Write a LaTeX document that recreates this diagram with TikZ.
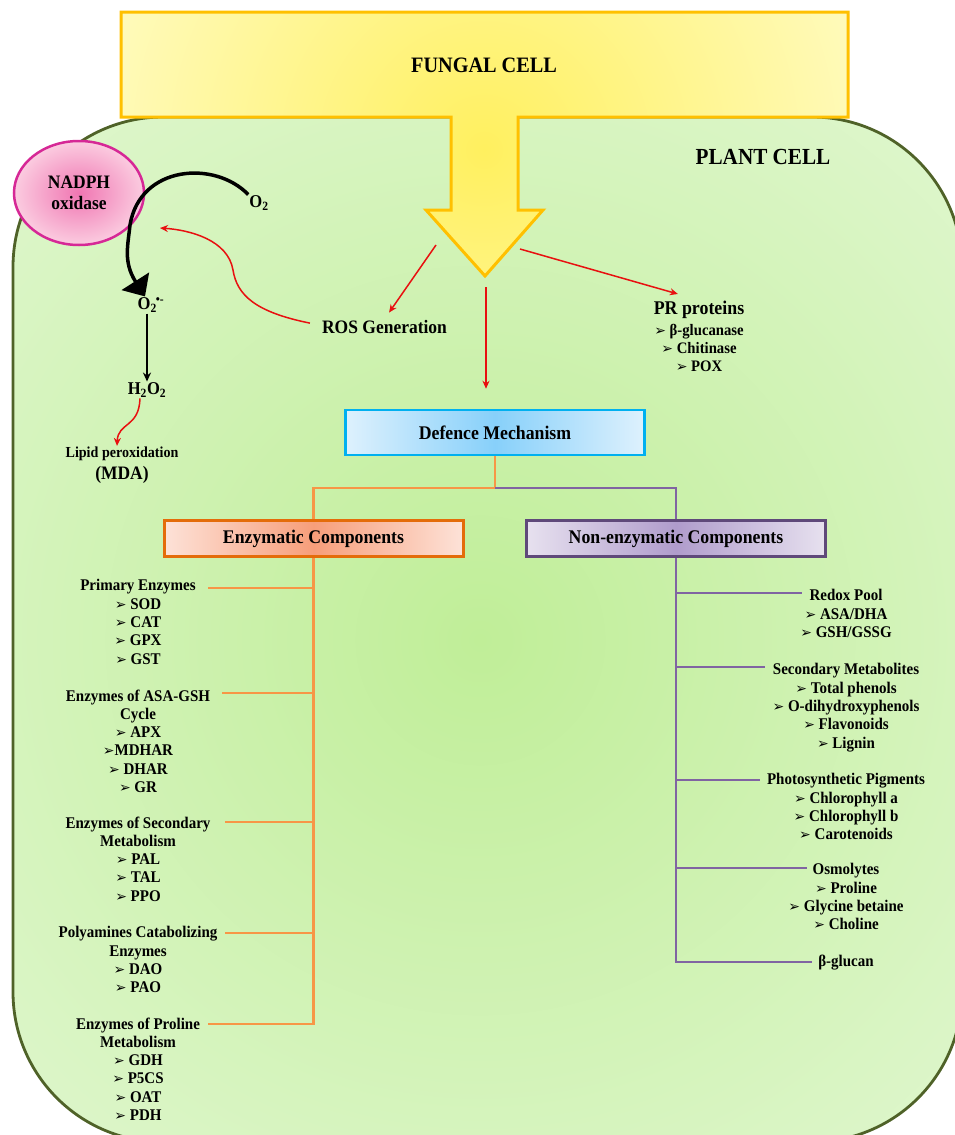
\documentclass[tikz,border=0pt]{standalone}
\usepackage{fontspec}
\setmainfont{Liberation Serif}[FakeStretch=0.92]
\newfontfamily\dingfont{DejaVu Sans}
\usetikzlibrary{shapes.geometric,arrows.meta,positioning}

\definecolor{FungalEdge}{RGB}{255,192,0}
\definecolor{FungalCore}{RGB}{255,240,95}
\definecolor{FungalPale}{RGB}{255,254,218}
\definecolor{PlantWall}{RGB}{79,98,40}
\definecolor{PlantCore}{RGB}{192,238,152}
\definecolor{PlantPale}{RGB}{236,250,228}
\definecolor{NoxEdge}{RGB}{214,40,150}
\definecolor{NoxCore}{RGB}{240,118,178}
\definecolor{NoxPale}{RGB}{251,204,224}
\definecolor{DefEdge}{RGB}{0,176,240}
\definecolor{DefCore}{RGB}{135,208,250}
\definecolor{DefPale}{RGB}{222,241,253}
\definecolor{EnzEdge}{RGB}{228,108,10}
\definecolor{EnzCore}{RGB}{247,158,122}
\definecolor{EnzPale}{RGB}{253,226,216}
\definecolor{NonEdge}{RGB}{95,73,122}
\definecolor{NonCore}{RGB}{176,156,204}
\definecolor{NonPale}{RGB}{231,225,239}
\definecolor{EnzLine}{RGB}{247,150,70}
\definecolor{NonLine}{RGB}{128,100,162}
\definecolor{ArrowRed}{RGB}{232,16,16}

\newcommand{\setfs}[2]{\fontsize{#1}{#2}\selectfont\bfseries}
\newcommand{\arw}{{\dingfont\fontsize{14}{14}\selectfont\char"27A2}}

\begin{document}
\begin{tikzpicture}[x=1pt,y=1pt,yscale=-1,xscale=1,
		enzline/.style={draw=EnzLine, line width=2.5pt},
		nonline/.style={draw=NonLine, line width=2.5pt},
		redarrow/.style={draw=ArrowRed, line width=1.5pt, -{Stealth[length=8pt,width=7pt]}},
		headbox/.style={draw, line width=3pt, minimum width=299pt, inner sep=0pt, font=\setfs{19.3}{22}},
		grouptext/.style={anchor=north, align=center, inner sep=0pt, font=\setfs{16.3}{18.3}},
		lbl/.style={inner sep=1pt, align=center, font=\setfs{19}{21}}]
		\useasboundingbox (0,0) rectangle (954,1135);

		% Plant cell: green shading clipped to the rounded wall
		\begin{scope}
			\clip[rounded corners=150pt] (13,117) rectangle (962,1142);
			\shade[inner color=PlantCore, outer color=PlantPale] (480,640) circle (1000);
		\end{scope}
		\draw[PlantWall, line width=2.8pt, rounded corners=150pt] (13,117) rectangle (962,1142);

		% Fungal cell: box with the arrow pushing into the plant cell
		\begin{scope}
			\clip (121,12) -- (848,12) -- (848,117) -- (518,117) -- (518,210) -- (543,210) -- (485,276) -- (426,210) -- (451,210) -- (451,117) -- (121,117) -- cycle;
			\shade[inner color=FungalCore, outer color=FungalPale] (484,150) circle (520);
		\end{scope}
		\draw[FungalEdge, line width=3pt] (121,12) -- (848,12) -- (848,117) -- (518,117) -- (518,210) -- (543,210) -- (485,276) -- (426,210) -- (451,210) -- (451,117) -- (121,117) -- cycle;

		% The words "FUNGAL CELL, PLANT CELL"
		\node[lbl, font=\setfs{22}{24}] (fungal) at (484,65) {FUNGAL CELL};
		\node[lbl, font=\setfs{23}{25}] (plant) at (763,157) {PLANT CELL};

		% NADPH oxidase and the ROS chain
		\node[ellipse, draw=NoxEdge, line width=2.5pt, inner color=NoxCore, outer color=NoxPale, minimum width=130pt, minimum height=104pt, inner sep=0pt, align=center, font=\setfs{19}{21}] (nox) at (79,193) {NADPH\\oxidase};
		\node[lbl, font=\setfs{18}{20}] (o2) at (259,203) {O\textsubscript{2}};
		\node[lbl, font=\setfs{18}{20}] (sup) at (151,305) {O\textsubscript{2}\kern-1pt\textsuperscript{\textbullet-}};
		\node[lbl, font=\setfs{18}{20}] (hp) at (147,390) {H\textsubscript{2}O\textsubscript{2}};
		\node[lbl, font=\setfs{15.3}{17}] (lipid) at (122,454) {Lipid peroxidation};
		\node[lbl] (mda) at (122,475) {(MDA)};
		\node[lbl] (ros) at (384.5,327) {ROS Generation};

		% PR proteins
		\node[lbl, font=\setfs{19.4}{21}] (pr) at (699,310) {PR proteins};
		\node[grouptext, font=\setfs{16}{18}] (pritems) at (699,324.5) {\arw\ β-glucanase\\\arw\ Chitinase\\\arw\ POX};

		% Boxes of the defence tree
		\node[headbox, draw=DefEdge, line width=2.5pt, left color=DefPale, right color=DefPale, middle color=DefCore, minimum height=45pt] (def) at (495,432.5) {Defence Mechanism};
		\node[headbox, draw=EnzEdge, left color=EnzPale, right color=EnzPale, middle color=EnzCore, minimum height=36pt] (enz) at (313.5,538.5) {Enzymatic Components};
		\node[headbox, draw=NonEdge, left color=NonPale, right color=NonPale, middle color=NonCore, minimum height=36pt] (nenz) at (676,538.5) {Non-enzymatic Components};

		% Points on the arrow head where the red arrows leave
		\coordinate (fa) at (436,245);
		\coordinate (fb) at (486,287);
		\coordinate (fc) at (520,249);
		\coordinate (oxs) at (160,228);

		% Red arrows
		\draw[redarrow, shorten >=8pt] (fa) -- (ros.north);
		\draw[redarrow, shorten >=20pt] (fb) -- (fb |- def.north);
		\draw[redarrow, shorten >=22pt] (fc) -- (pr.north);
		\draw[redarrow] ([xshift=-11pt,yshift=4pt]ros.north west) .. controls (255,312) and (237,295) .. (233,270) .. controls (228,240) and (190,230) .. (oxs);
		\draw[redarrow] ([xshift=-7pt]hp.south) .. controls (139,428) and (118,422) .. ([xshift=-5pt]lipid.north);

		% Black arrows of the superoxide step
		\draw[line width=3.5pt, -{Triangle[length=18pt,width=32pt]}] (o2.north west) .. controls (215,160) and (140,165) .. (130,225) .. controls (128,245) and (123,262) .. ([xshift=-6pt]sup.north);
		\draw[line width=1.6pt, -{Stealth[length=9pt,width=8pt]}] (hp.north |- sup.south) -- (hp.north);

		\coordinate (jn) at (495,488);
		\draw[enzline] (def.south) -- (jn) -| (enz.north);
		\draw[nonline] (jn) -| (nenz.north);

		% Enzymatic groups
		\node[grouptext] (g1) at (138,579.4) {Primary Enzymes\\\arw\ SOD\\\arw\ CAT\\\arw\ GPX\\\arw\ GST};
		\node[grouptext] (g2) at (138,689.4) {Enzymes of ASA-GSH\\Cycle\\\arw\ APX\\\arw MDHAR\\\arw\ DHAR\\\arw\ GR};
		\node[grouptext] (g3) at (138,816.4) {Enzymes of Secondary\\Metabolism\\\arw\ PAL\\\arw\ TAL\\\arw\ PPO};
		\node[grouptext] (g4) at (138,926.4) {Polyamines Catabolizing\\Enzymes\\\arw\ DAO\\\arw\ PAO};
		\node[grouptext] (g5) at (138,1017.4) {Enzymes of Proline\\Metabolism\\\arw\ GDH\\\arw\ P5CS\\\arw\ OAT\\\arw\ PDH};

		\coordinate (eb1) at (208,588);
		\coordinate (eb2) at (222,693);
		\coordinate (eb3) at (225,822);
		\coordinate (eb4) at (225,933);
		\coordinate (eb5) at (208,1024);
		\draw[enzline] (enz.south) -- (enz.south |- eb5) -- (eb5);
		\draw[enzline] (enz.south |- eb1) -- (eb1);
		\draw[enzline] (enz.south |- eb2) -- (eb2);
		\draw[enzline] (enz.south |- eb3) -- (eb3);
		\draw[enzline] (enz.south |- eb4) -- (eb4);

		% Non-enzymatic groups
		\node[grouptext] (r1) at (846,589.4) {Redox Pool\\\arw\ ASA/DHA\\\arw\ GSH/GSSG};
		\node[grouptext] (r2) at (846,663.4) {Secondary Metabolites\\\arw\ Total phenols\\\arw\ O-dihydroxyphenols\\\arw\ Flavonoids\\\arw\ Lignin};
		\node[grouptext] (r3) at (846,773.4) {Photosynthetic Pigments\\\arw\ Chlorophyll a\\\arw\ Chlorophyll b\\\arw\ Carotenoids};
		\node[grouptext] (r4) at (846,863.4) {Osmolytes\\\arw\ Proline\\\arw\ Glycine betaine\\\arw\ Choline};
		\node[grouptext] (r5) at (846,954.4) {β-glucan};

		\coordinate (nb1) at (802,593);
		\coordinate (nb2) at (765,667);
		\coordinate (nb3) at (760,780);
		\coordinate (nb4) at (807,868);
		\coordinate (nb5) at (812,962);
		\draw[nonline] (nenz.south) -- (nenz.south |- nb5) -- (nb5);
		\draw[nonline] (nenz.south |- nb1) -- (nb1);
		\draw[nonline] (nenz.south |- nb2) -- (nb2);
		\draw[nonline] (nenz.south |- nb3) -- (nb3);
		\draw[nonline] (nenz.south |- nb4) -- (nb4);
	\end{tikzpicture}
\end{document}
